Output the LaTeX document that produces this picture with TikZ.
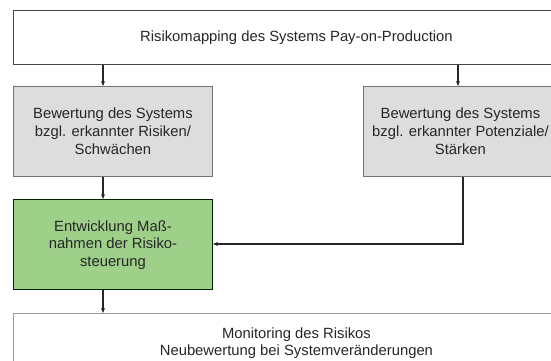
\documentclass[tikz,border=0pt]{standalone}
\usepackage{fontspec}
\setmainfont{Liberation Sans}
\usetikzlibrary{arrows.meta}
\definecolor{boxgray}{RGB}{221,221,221}
\definecolor{boxgreen}{RGB}{158,208,138}
\definecolor{edgegray}{RGB}{70,70,70}
\begin{document}
\begin{tikzpicture}[x=1pt,y=-1pt,
  box/.style={draw=edgegray,line width=0.9pt,inner sep=0pt,align=center,anchor=north west,
    font=\fontsize{14.8}{17.8}\selectfont,text=black!85},
  conn/.style={draw=black!85,line width=1.4pt,-{Stealth[length=5pt,width=4pt]}}]
\useasboundingbox (0,0) rectangle (551,361);
\clip (0,0) rectangle (551,361);
\node[box,minimum width=566pt,minimum height=54pt] (top) at (13,10) {Risikomapping des Systems Pay-on-Production};
\node[box,draw=black!55,fill=boxgray,minimum width=199pt,minimum height=90pt] (left) at (13,86)
  {Bewertung des Systems\\bzgl. erkannter Risiken/\\Schwächen};
\node[box,draw=black!55,fill=boxgray,minimum width=194pt,minimum height=90pt] (right) at (363,86)
  {Bewertung des Systems\\bzgl. erkannter Potenziale/\\Stärken};
\node[box,draw=black!65!green!40!black,fill=boxgreen,minimum width=199pt,minimum height=90pt] (green) at (13,199)
  {\\[-6pt]Entwicklung Maß-\\nahmen der Risiko-\\steuerung};
\node[box,draw=black!40,minimum width=566pt,minimum height=70pt,anchor=north west,align=center] (bottom) at (13,313)
  {\\[-32pt]Monitoring des Risikos\\Neubewertung bei Systemveränderungen};
\draw[conn] (top.south -| 103,0) -- (left.north -| 103,0);
\draw[conn] (top.south -| 458,0) -- (right.north -| 458,0);
\draw[conn] (left.south -| 103,0) -- (green.north -| 103,0);
\draw[conn] (green.south -| 103,0) -- (bottom.north -| 103,0);
\draw[conn] (right.south -| 463,0) -- (463,244) -- (green.east |- 0,244);
\end{tikzpicture}
\end{document}
